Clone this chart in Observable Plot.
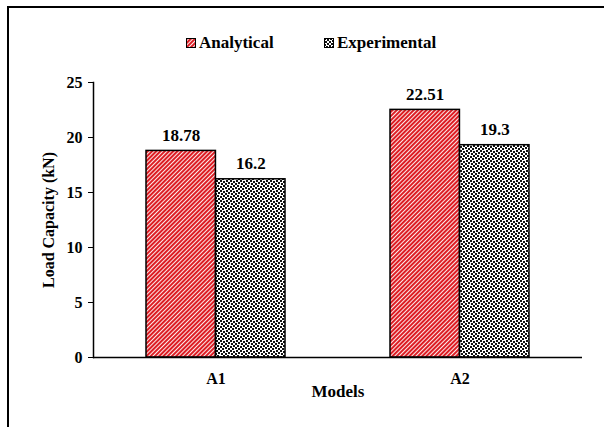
<!DOCTYPE html>
<html><head><meta charset="utf-8">
<script src="https://cdn.jsdelivr.net/npm/d3@7"></script>
<script src="https://cdn.jsdelivr.net/npm/@observablehq/plot@0.6"></script>
<style>
body{margin:0;background:#fff;font-family:"Liberation Serif","Times New Roman",serif;}
#wrap{position:relative;width:604px;height:427px;overflow:hidden;background:#fff;}
#border{position:absolute;left:7px;top:6px;width:700px;height:500px;border-top:2px solid #000;border-left:2px solid #000;pointer-events:none;}
#legend{position:relative;height:60px;}
.item{position:absolute;top:33px;display:flex;align-items:center;font-weight:bold;font-size:17px;color:#000;}
.item svg{margin-right:3px;}
#defs{position:absolute;width:0;height:0;}
</style>
</head><body>
<svg id="defs" width="0" height="0">
  <defs>
    <pattern id="hatchRed" patternUnits="userSpaceOnUse" width="3" height="3" patternTransform="rotate(45)">
      <rect width="3" height="3" fill="#fff"/>
      <rect x="0" y="0" width="2.1" height="3" fill="#dd1d24"/>
    </pattern>
    <pattern id="confetti" patternUnits="userSpaceOnUse" width="10" height="10">
      <rect width="10" height="10" fill="#fff"/>
      <g fill="#111">
        <rect x="0" y="0" width="2" height="2"/>
        <rect x="3" y="1" width="2" height="2"/>
        <rect x="6" y="0" width="2" height="2"/>
        <rect x="8" y="2" width="2" height="2"/>
        <rect x="1" y="3" width="2" height="2"/>
        <rect x="5" y="3" width="2" height="2"/>
        <rect x="3" y="5" width="2" height="2"/>
        <rect x="7" y="5" width="2" height="2"/>
        <rect x="0" y="6" width="2" height="2"/>
        <rect x="5" y="7" width="2" height="2"/>
        <rect x="2" y="8" width="2" height="2"/>
        <rect x="8" y="8" width="2" height="2"/>
      </g>
    </pattern>
  </defs>
</svg>
<div id="wrap">
  <div id="border"></div>
  <div id="legend"></div>
  <div id="chart"></div>
</div>
<script>
const models = ["A1", "A2"];
const seriesNames = ["Analytical", "Experimental"];
const analytical = [18.78, 22.51];
const experimental = [16.2, 19.3];
const yTicks = [0, 5, 10, 15, 20, 25];

const fills = {Analytical: "url(#hatchRed)", Experimental: "url(#confetti)"};

const anaData = models.map((m, i) => ({model: m, value: analytical[i], label: String(analytical[i])}));
const expData = models.map((m, i) => ({model: m, value: experimental[i], label: String(experimental[i])}));

// legend
const legend = document.getElementById("legend");
const legendLeft = [186, 324];
seriesNames.forEach((s, i) => {
  const div = document.createElement("div");
  div.className = "item";
  div.style.left = legendLeft[i] + "px";
  div.innerHTML = `<svg width="10" height="10"><rect x="0.5" y="0.5" width="9" height="9" fill="${fills[s]}" stroke="#000" stroke-width="1"/></svg><span>${s}</span>`;
  legend.appendChild(div);
});

const W = 604, H = 367, mL = 93, mR = 22, mT = 22, mB = 70;
const pInner = 0.431;
const step = (W - mL - mR) / models.length;
const bw = step * (1 - pInner);

const chart = Plot.plot({
  width: W, height: H,
  marginLeft: mL, marginRight: mR, marginTop: mT, marginBottom: mB,
  style: {fontFamily: "Liberation Serif, Times New Roman, serif", fontSize: "16px", fontWeight: "bold", color: "#000", background: "transparent"},
  x: {domain: models, paddingInner: pInner, paddingOuter: pInner / 2, align: 0.5},
  y: {domain: [0, 25]},
  marks: [
    Plot.barY(anaData, {x: "model", y: "value", fill: fills.Analytical, stroke: "#000", strokeWidth: 1.5, insetRight: bw / 2}),
    Plot.barY(expData, {x: "model", y: "value", fill: fills.Experimental, stroke: "#000", strokeWidth: 1.5, insetLeft: bw / 2}),
    Plot.text(anaData, {x: "model", y: "value", text: "label", dx: -bw / 4, dy: -10, lineAnchor: "bottom", fontSize: 17, fontWeight: "bold"}),
    Plot.text(expData, {x: "model", y: "value", text: "label", dx: bw / 4, dy: -10, lineAnchor: "bottom", fontSize: 17, fontWeight: "bold"}),
    Plot.ruleY([0], {stroke: "#000", strokeWidth: 1.5}),
    Plot.frame({anchor: "left", stroke: "#000", strokeWidth: 1.5}),
    Plot.axisY({ticks: yTicks, tickSize: 5, tickPadding: 6, fontSize: 16, fontWeight: "bold", label: null}),
    Plot.text(["Load Capacity (kN)"], {frameAnchor: "left", textAnchor: "middle", dx: -45, rotate: -90, fontSize: 16, fontWeight: "bold"}),
    Plot.axisX({tickSize: 0, tickPadding: 15, fontSize: 16, fontWeight: "bold", label: null}),
    Plot.text(["Models"], {frameAnchor: "bottom", dy: 39, fontSize: 17, fontWeight: "bold"})
  ]
});
document.getElementById("chart").appendChild(chart);
</script>
</body></html>
